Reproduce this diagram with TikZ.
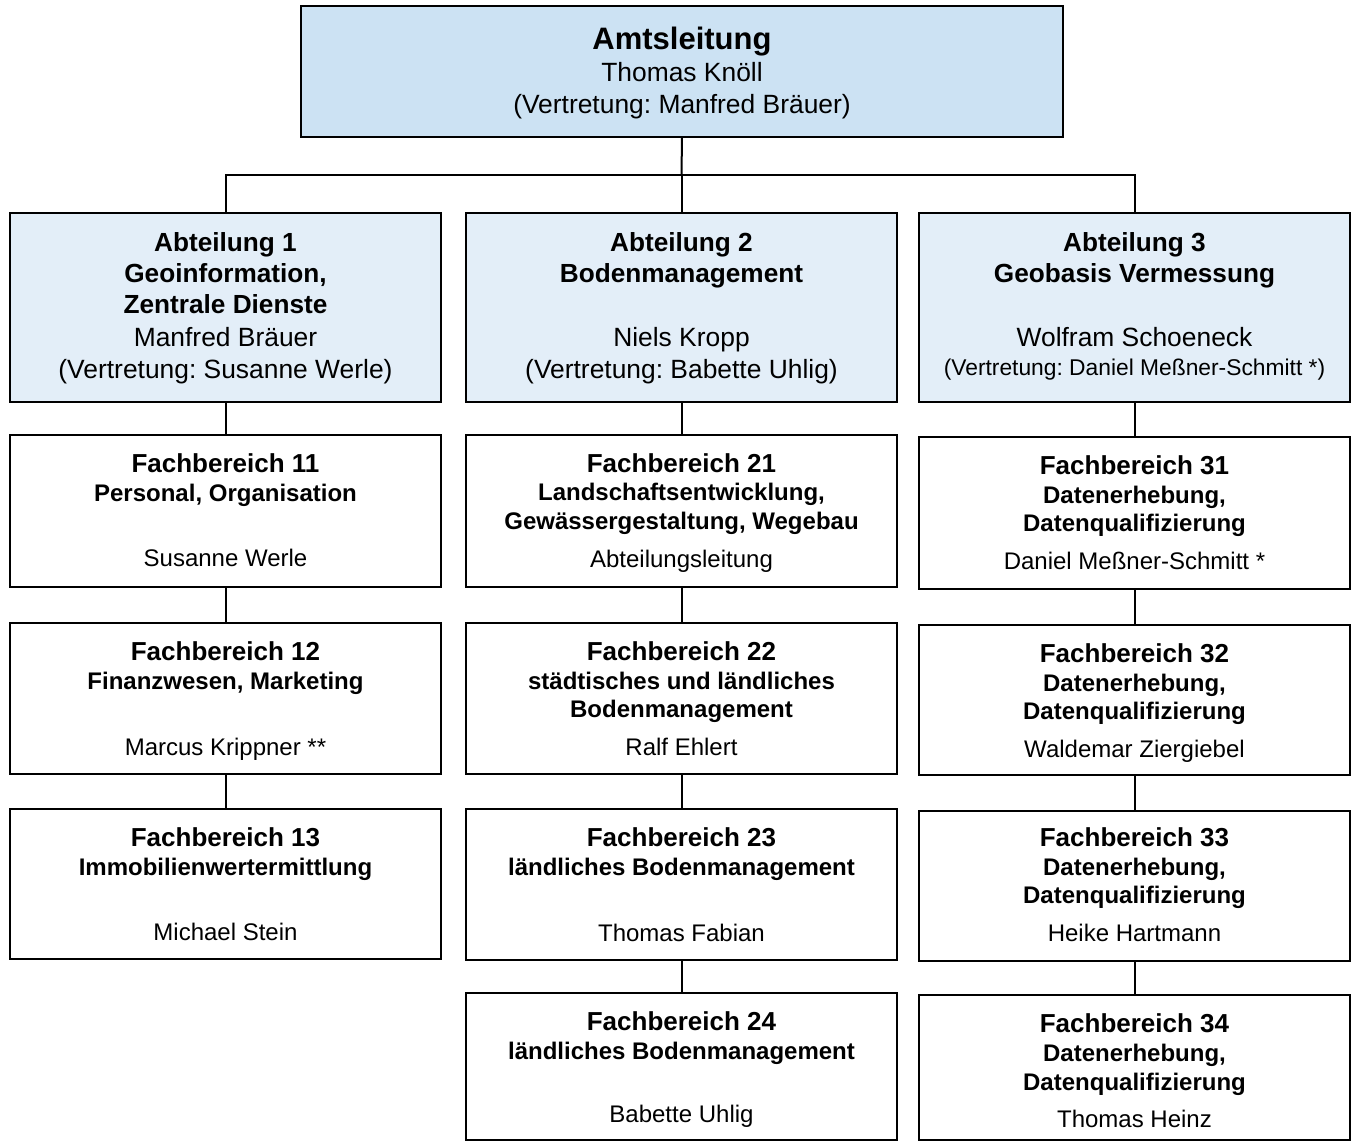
\documentclass[tikz,border=0pt]{standalone}
\usepackage{fontspec}
\setmainfont{Liberation Sans}
\usetikzlibrary{fit}
\frenchspacing
\definecolor{topfill}{RGB}{204,226,243}
\definecolor{abtfill}{RGB}{227,238,248}
\tikzset{
  boxbase/.style={draw=black, line width=1pt, inner sep=0pt, outer sep=0pt},
  topbox/.style={boxbase, fill=topfill},
  abtbox/.style={boxbase, fill=abtfill},
  fbbox/.style={boxbase, fill=white},
  conn/.style={draw=black, line width=1pt},
  txt/.style={anchor=base, inner sep=0pt, outer sep=0pt},
  ttl/.style={txt, font=\fontsize{15.5pt}{18pt}\selectfont\bfseries},
  headb/.style={txt, font=\fontsize{13.1pt}{16pt}\selectfont\bfseries},
  headr/.style={txt, font=\fontsize{13.2pt}{16pt}\selectfont},
  smallr/.style={txt, font=\fontsize{11.4pt}{14pt}\selectfont},
  fbt/.style={txt, font=\fontsize{13pt}{16pt}\selectfont\bfseries},
  fbs/.style={txt, font=\fontsize{12pt}{14pt}\selectfont\bfseries},
  fbn/.style={txt, font=\fontsize{12pt}{14pt}\selectfont},
}
\begin{document}
\begin{tikzpicture}[x=0.5pt,y=-0.5pt]
\useasboundingbox (0,0) rectangle (1357,1142);

% ---------- boxes ----------
\node[topbox, fit={(301,6) (1063,137)}] (top) {};
\node[abtbox, fit={(10,213) (441,402)}] (a1) {};
\node[abtbox, fit={(466,213) (897,402)}] (a2) {};
\node[abtbox, fit={(919,213) (1350,402)}] (a3) {};

\node[fbbox, fit={(10,435) (441,587)}] (f11) {};
\node[fbbox, fit={(10,623) (441,774)}] (f12) {};
\node[fbbox, fit={(10,809) (441,959)}] (f13) {};

\node[fbbox, fit={(466,435) (897,587)}] (f21) {};
\node[fbbox, fit={(466,623) (897,774)}] (f22) {};
\node[fbbox, fit={(466,809) (897,960)}] (f23) {};
\node[fbbox, fit={(466,993) (897,1140)}] (f24) {};

\node[fbbox, fit={(919,437) (1350,589)}] (f31) {};
\node[fbbox, fit={(919,625) (1350,775)}] (f32) {};
\node[fbbox, fit={(919,811) (1350,961)}] (f33) {};
\node[fbbox, fit={(919,995) (1350,1140)}] (f34) {};

% ---------- connectors ----------
\coordinate (bus) at (681.5,175);
\draw[conn] (top.south) -- (bus);
\draw[conn] (a1.north) |- (bus) -| (a3.north);
\draw[conn] (bus) -- (a2.north);
\draw[conn] (a1.south) -- (f11.north);
\draw[conn] (f11.south) -- (f12.north);
\draw[conn] (f12.south) -- (f13.north);
\draw[conn] (a2.south) -- (f21.north);
\draw[conn] (f21.south) -- (f22.north);
\draw[conn] (f22.south) -- (f23.north);
\draw[conn] (f23.south) -- (f24.north);
\draw[conn] (a3.south) -- (f31.north);
\draw[conn] (f31.south) -- (f32.north);
\draw[conn] (f32.south) -- (f33.north);
\draw[conn] (f33.south) -- (f34.north);

% ---------- texts ----------
\node[ttl]  (t1) at (682,49) {Amtsleitung};
\node[headr] (t2) at (682,81.5) {Thomas Knöll};
\node[headr] (t3) at (682,113.5) {(Vertretung: Manfred Bräuer)};

\node[headb] (a1l1) at (225.5,251) {Abteilung 1};
\node[headb] (a1l2) at (225.5,282) {Geoinformation,};
\node[headb] (a1l3) at (225.5,313.5) {Zentrale Dienste};
\node[headr] (a1l4) at (225.5,346.5) {Manfred Bräuer};
\node[headr] (a1l5) at (225.5,378.5) {(Vertretung: Susanne Werle)};

\node[headb] (a2l1) at (681.5,251) {Abteilung 2};
\node[headb] (a2l2) at (681.5,282) {Bodenmanagement};
\node[headr] (a2l4) at (681.5,346.5) {Niels Kropp};
\node[headr] (a2l5) at (681.5,378.5) {(Vertretung: Babette Uhlig)};

\node[headb] (a3l1) at (1134.5,251) {Abteilung 3};
\node[headb] (a3l2) at (1134.5,282) {Geobasis Vermessung};
\node[headr] (a3l4) at (1134.5,346.5) {Wolfram Schoeneck};
\node[smallr] (a3l5) at (1134.5,375.5) {(Vertretung: Daniel Meßner-Schmitt *)};

% column 1
\node[fbt] (f11a) at (225.5,472.5) {Fachbereich 11};
\node[fbs] (f11b) at (225.5,501) {Personal, Organisation};
\node[fbn] (f11c) at (225.5,566.5) {Susanne Werle};

\node[fbt] (f12a) at (225.5,660) {Fachbereich 12};
\node[fbs] (f12b) at (225.5,689) {Finanzwesen, Marketing};
\node[fbn] (f12c) at (225.5,755) {Marcus Krippner **};

\node[fbt] (f13a) at (225.5,846) {Fachbereich 13};
\node[fbs] (f13b) at (225.5,875) {Immobilienwertermittlung};
\node[fbn] (f13c) at (225.5,940) {Michael Stein};

% column 2
\node[fbt] (f21a) at (681.5,472.5) {Fachbereich 21};
\node[fbs] (f21b) at (681.5,500.5) {Landschaftsentwicklung,};
\node[fbs] (f21c) at (681.5,529) {Gewässergestaltung, Wegebau};
\node[fbn] (f21d) at (681.5,567) {Abteilungsleitung};

\node[fbt] (f22a) at (681.5,660) {Fachbereich 22};
\node[fbs] (f22b) at (681.5,689) {städtisches und ländliches};
\node[fbs] (f22c) at (681.5,717.5) {Bodenmanagement};
\node[fbn] (f22d) at (681.5,755) {Ralf Ehlert};

\node[fbt] (f23a) at (681.5,846) {Fachbereich 23};
\node[fbs] (f23b) at (681.5,875) {ländliches Bodenmanagement};
\node[fbn] (f23c) at (681.5,941) {Thomas Fabian};

\node[fbt] (f24a) at (681.5,1030) {Fachbereich 24};
\node[fbs] (f24b) at (681.5,1059) {ländliches Bodenmanagement};
\node[fbn] (f24c) at (681.5,1122) {Babette Uhlig};

% column 3
\node[fbt] (f31a) at (1134.5,474) {Fachbereich 31};
\node[fbs] (f31b) at (1134.5,503) {Datenerhebung,};
\node[fbs] (f31c) at (1134.5,531.5) {Datenqualifizierung};
\node[fbn] (f31d) at (1134.5,569) {Daniel Meßner-Schmitt *};

\node[fbt] (f32a) at (1134.5,662) {Fachbereich 32};
\node[fbs] (f32b) at (1134.5,691) {Datenerhebung,};
\node[fbs] (f32c) at (1134.5,719.5) {Datenqualifizierung};
\node[fbn] (f32d) at (1134.5,757) {Waldemar Ziergiebel};

\node[fbt] (f33a) at (1134.5,846) {Fachbereich 33};
\node[fbs] (f33b) at (1134.5,875) {Datenerhebung,};
\node[fbs] (f33c) at (1134.5,903.5) {Datenqualifizierung};
\node[fbn] (f33d) at (1134.5,941) {Heike Hartmann};

\node[fbt] (f34a) at (1134.5,1032) {Fachbereich 34};
\node[fbs] (f34b) at (1134.5,1061) {Datenerhebung,};
\node[fbs] (f34c) at (1134.5,1090) {Datenqualifizierung};
\node[fbn] (f34d) at (1134.5,1127) {Thomas Heinz};
\end{tikzpicture}
\end{document}
